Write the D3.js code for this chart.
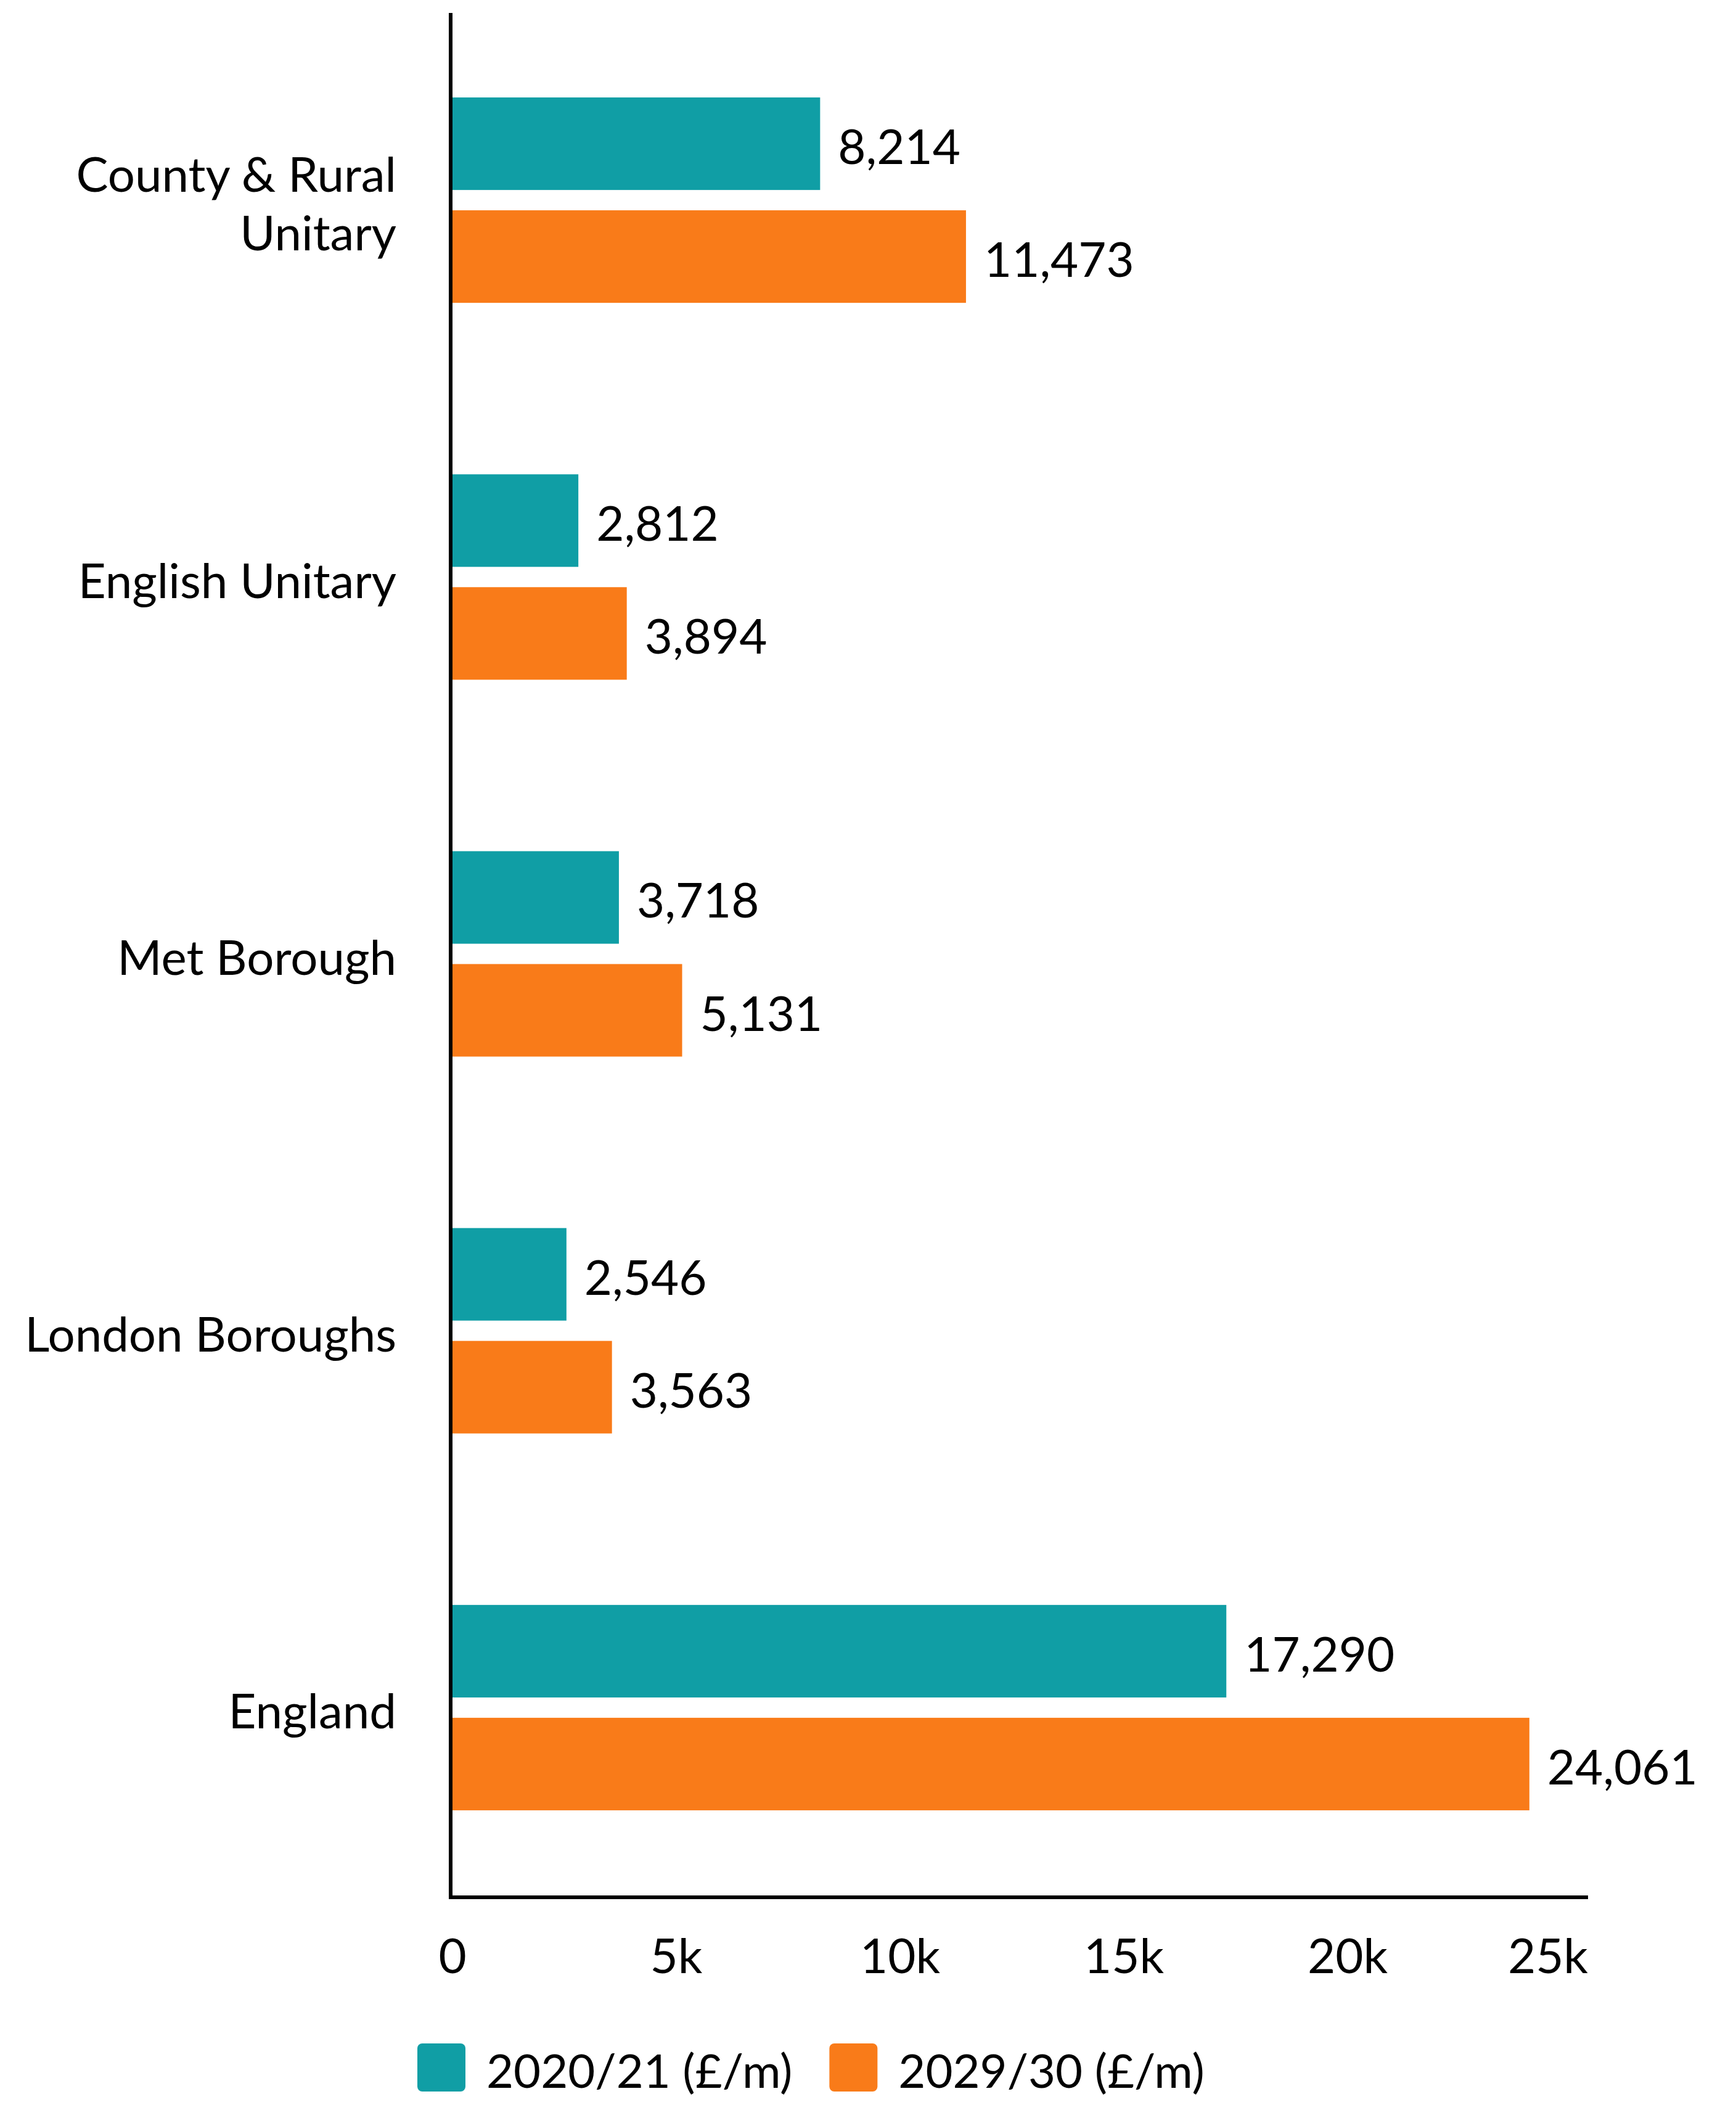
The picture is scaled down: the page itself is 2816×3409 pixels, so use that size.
<!DOCTYPE html>
<html>
<head>
<meta charset="utf-8">
<script src="https://cdn.jsdelivr.net/npm/d3@7"></script>
<style>
  html, body { margin: 0; padding: 0; background: #fff; }
  svg { display: block; font-family: Lato, "Noto Sans", sans-serif; }
</style>
</head>
<body>
<svg id="chart" width="2816" height="3409"></svg>
<script>
// Spending by authority type, £m
const categories = ["County & Rural Unitary", "English Unitary", "Met Borough", "London Boroughs", "England"];
const categoryLines = [["County & Rural", "Unitary"], ["English Unitary"], ["Met Borough"], ["London Boroughs"], ["England"]];
const seriesNames = ["2020/21 (£/m)", "2029/30 (£/m)"];
const values2020 = [8214, 2812, 3718, 2546, 17290];
const values2029 = [11473, 3894, 5131, 3563, 24061];
const tickValues = [0, 5000, 10000, 15000, 20000, 25000];
const tickLabels = ["0", "5k", "10k", "15k", "20k", "25k"];
const colors = ["#109EA5", "#F97B19"];

const svg = d3.select("#chart");
const fontSize = 78;

const plotLeft = 734, barRight = 2549, axisRight = 2576;
const plotTop = 19, plotBottom = 3075;

const x = d3.scaleLinear().domain([0, 25000]).range([plotLeft, barRight]);

const y0 = d3.scaleBand().domain(categories).range([plotTop, plotBottom])
  .paddingInner(0.455).paddingOuter(0.2275);
const y1 = d3.scaleBand().domain(seriesNames).range([0, y0.bandwidth()])
  .paddingInner(0.18);

const rows = categories.map((c, i) => ({
  category: c,
  lines: categoryLines[i],
  bars: [values2020[i], values2029[i]].map((v, j) => ({ series: seriesNames[j], value: v, color: colors[j] }))
}));

// Bars and value labels
const groups = svg.append("g").selectAll("g.group").data(rows).join("g")
  .attr("class", "group")
  .attr("transform", d => `translate(0,${y0(d.category)})`);

groups.selectAll("rect").data(d => d.bars).join("rect")
  .attr("x", x(0))
  .attr("y", d => y1(d.series))
  .attr("width", d => x(d.value) - x(0))
  .attr("height", y1.bandwidth())
  .attr("fill", d => d.color);

groups.selectAll("text.value").data(d => d.bars).join("text")
  .attr("class", "value")
  .attr("x", d => x(d.value) + 29)
  .attr("y", d => y1(d.series) + y1.bandwidth() / 2 + 33)
  .attr("font-size", fontSize)
  .attr("fill", "#000")
  .text(d => d3.format(",")(d.value));

// Category labels
const catLabels = svg.append("g").selectAll("text.cat").data(rows).join("text")
  .attr("class", "cat")
  .attr("text-anchor", "end")
  .attr("font-size", fontSize)
  .attr("fill", "#000");

catLabels.each(function(d) {
  const cy = y0(d.category) + y0.bandwidth() / 2;
  const n = d.lines.length;
  d3.select(this).selectAll("tspan").data(d.lines).join("tspan")
    .attr("x", 643)
    .attr("y", (t, i) => cy + 34 + (i - (n - 1) / 2) * 95)
    .text(t => t);
});

// Axis lines
svg.append("line")
  .attr("x1", 731).attr("x2", 731)
  .attr("y1", 21).attr("y2", 3080)
  .attr("stroke", "#000").attr("stroke-width", 6);

svg.append("line")
  .attr("x1", 728).attr("x2", axisRight)
  .attr("y1", 3077).attr("y2", 3077)
  .attr("stroke", "#000").attr("stroke-width", 6);

// X tick labels; the last one is kept inside the axis end
svg.append("g").selectAll("text.tick").data(tickValues).join("text")
  .attr("class", "tick")
  .attr("x", (v, i) => i === tickValues.length - 1 ? axisRight : x(v))
  .attr("y", 3200)
  .attr("text-anchor", (v, i) => i === tickValues.length - 1 ? "end" : "middle")
  .attr("font-size", fontSize)
  .attr("fill", "#000")
  .text((v, i) => tickLabels[i]);

// Legend
const legend = svg.append("g").attr("class", "legend");
let lx = 677;
seriesNames.forEach((name, i) => {
  legend.append("rect")
    .attr("x", lx).attr("y", 3314)
    .attr("width", 78).attr("height", 78)
    .attr("rx", 8).attr("ry", 8)
    .attr("fill", colors[i]);
  const t = legend.append("text")
    .attr("x", lx + 78 + 34)
    .attr("y", 3386)
    .attr("font-size", 76)
    .attr("fill", "#000")
    .text(name);
  lx = lx + 78 + 34 + t.node().getComputedTextLength() + 60;
});
</script>
</body>
</html>
